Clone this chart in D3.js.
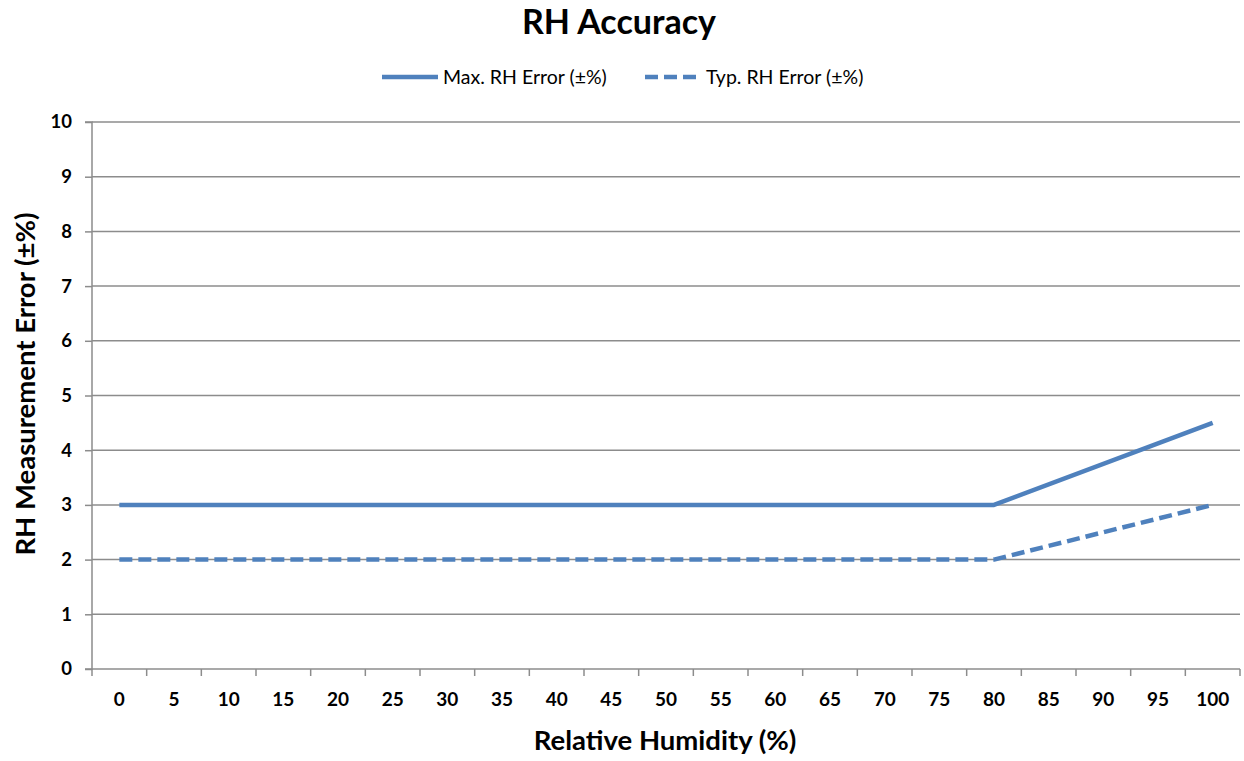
<!DOCTYPE html>
<html>
<head>
<meta charset="utf-8">
<script src="https://cdn.jsdelivr.net/npm/d3@7"></script>
<style>
  html, body { margin: 0; padding: 0; background: #ffffff; }
  svg { display: block; }
</style>
</head>
<body>
<svg id="chart" width="1244" height="761"></svg>
<script>
// ---- data ----
const categories = ["0","5","10","15","20","25","30","35","40","45","50","55","60","65","70","75","80","85","90","95","100"];
const maxRHError = [3,3,3,3,3,3,3,3,3,3,3,3,3,3,3,3,3,null,null,null,4.5];
const typRHError = [2,2,2,2,2,2,2,2,2,2,2,2,2,2,2,2,2,null,null,null,3];
const yTicks = [0,1,2,3,4,5,6,7,8,9,10];
const seriesNames = ["Max. RH Error (\u00B1%)", "Typ. RH Error (\u00B1%)"];
const chartTitle = "RH Accuracy";
const xTitle = "Relative Humidity (%)";
const yTitle = "RH Measurement Error (\u00B1%)";

// ---- layout ----
const W = 1244, H = 761;
const plot = { left: 92, right: 1240, top: 122, bottom: 669 };
const blue = "#4F81BD";
const grid = "#8c8c8c";
const font = "Lato, 'Open Sans', sans-serif";

const svg = d3.select("#chart");

const x = d3.scaleBand().domain(categories).range([plot.left, plot.right]).padding(0);
const y = d3.scaleLinear().domain([0, 10]).range([plot.bottom, plot.top]);

// gridlines
svg.append("g").selectAll("line").data(yTicks.filter(d => d > 0)).join("line")
  .attr("x1", plot.left).attr("x2", plot.right)
  .attr("y1", d => y(d)).attr("y2", d => y(d))
  .attr("stroke", grid).attr("stroke-width", 1.5);

// y axis
const yAxis = d3.axisLeft(y).tickValues(yTicks).tickSize(7).tickPadding(13).tickFormat(d3.format("d"));
const gy = svg.append("g").attr("transform", `translate(${plot.left},0)`).call(yAxis);
gy.select(".domain").attr("stroke", grid).attr("stroke-width", 1.5).attr("d", `M-7,${plot.top}H0V${plot.bottom}H-7`);
gy.selectAll(".tick line").attr("stroke", grid).attr("stroke-width", 1.5);
gy.selectAll(".tick text").attr("font-family", font).attr("font-weight", "bold")
  .attr("font-size", 18.5).attr("fill", "#000");

// x axis (category ticks between bands)
const xAxis = d3.axisBottom(x).tickSize(0).tickPadding(24);
const gx = svg.append("g").attr("transform", `translate(0,${plot.bottom})`).call(xAxis);
gx.select(".domain").attr("stroke", grid).attr("stroke-width", 1.5).attr("d", `M${plot.left},0H${plot.right}`);
gx.selectAll(".tick text").attr("font-family", font).attr("font-weight", "bold")
  .attr("font-size", 19).attr("fill", "#000");
const boundaries = categories.map(c => x(c)).concat([x(categories[categories.length-1]) + x.bandwidth()]);
gx.append("g").selectAll("line").data(boundaries).join("line")
  .attr("x1", d => d).attr("x2", d => d).attr("y1", 0).attr("y2", 7)
  .attr("stroke", grid).attr("stroke-width", 1.5);

// lines
const line = d3.line()
  .defined(d => d.v !== null)
  .x(d => x(d.c) + x.bandwidth() / 2)
  .y(d => y(d.v));
const toPts = arr => categories.map((c, i) => ({ c, v: arr[i] })).filter(d => d.v !== null);

svg.append("path").datum(toPts(maxRHError)).attr("d", line)
  .attr("fill", "none").attr("stroke", blue).attr("stroke-width", 4.5).attr("stroke-linejoin", "round");
svg.append("path").datum(toPts(typRHError)).attr("d", line)
  .attr("fill", "none").attr("stroke", blue).attr("stroke-width", 4.5)
  .attr("stroke-dasharray", "13,6").attr("stroke-linejoin", "round");

// title
svg.append("text").attr("x", 619).attr("y", 34).attr("text-anchor", "middle")
  .attr("font-family", font).attr("font-weight", "bold").attr("font-size", 34).attr("fill", "#000")
  .text(chartTitle);

// legend
const lg = svg.append("g");
lg.append("line").attr("x1", 382).attr("x2", 438).attr("y1", 77).attr("y2", 77)
  .attr("stroke", blue).attr("stroke-width", 4.5);
lg.append("text").attr("x", 443).attr("y", 84).attr("font-family", font).attr("font-size", 19.5).attr("fill", "#000")
  .text(seriesNames[0]);
lg.append("line").attr("x1", 645).attr("x2", 699).attr("y1", 77).attr("y2", 77)
  .attr("stroke", blue).attr("stroke-width", 4.5).attr("stroke-dasharray", "13,6");
lg.append("text").attr("x", 706).attr("y", 84).attr("font-family", font).attr("font-size", 19.5).attr("fill", "#000")
  .text(seriesNames[1]);

// axis titles
svg.append("text").attr("x", 665).attr("y", 750).attr("text-anchor", "middle")
  .attr("font-family", font).attr("font-weight", "bold").attr("font-size", 27.5).attr("fill", "#000")
  .text(xTitle);
svg.append("text").attr("transform", "translate(35,384) rotate(-90)").attr("text-anchor", "middle")
  .attr("font-family", font).attr("font-weight", "bold").attr("font-size", 27.5).attr("fill", "#000")
  .text(yTitle);
</script>
</body>
</html>
